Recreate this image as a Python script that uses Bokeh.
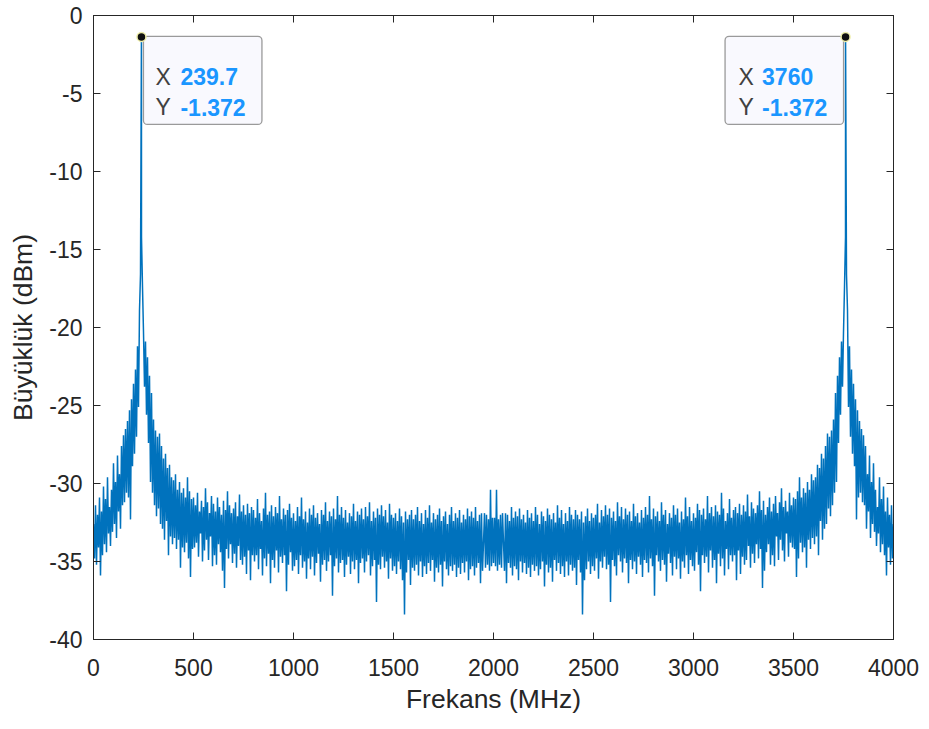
from bokeh.plotting import figure
from bokeh.models import Range1d, LinearAxis, FixedTicker, BoxAnnotation
from bokeh.core.properties import value
from bokeh.embed import file_html
from bokeh.resources import INLINE

# ---------------- data ----------------
X_TICKS = [0, 500, 1000, 1500, 2000, 2500, 3000, 3500, 4000]
Y_TICKS = [-40, -35, -30, -25, -20, -15, -10, -5, 0]
X_LABEL = "Frekans (MHz)"
Y_LABEL = "Büyüklük (dBm)"

FS = 4000.0      # sampling frequency (MHz): spectrum shown 0..FS
STEP = 5.0       # frequency spacing of the read-off values (MHz)

# magnitude (dBm) for 0..2000 MHz, every 5 MHz;
# the spectrum of the real signal is mirror-symmetric about FS/2
half_mag = [
    -32.6, -34.8, -31.4, -35.2, -32.0, -34.1, -30.9, -35.9, -31.8, -34.6,
    -30.2, -33.9, -31.0, -34.4, -29.6, -33.2, -31.5, -34.0, -30.4, -33.1,
    -28.7, -32.6, -29.9, -33.5, -28.2, -31.8, -29.4, -32.9, -27.6, -31.4,
    -26.9, -31.2, -26.5, -30.6, -26.0, -30.9, -25.3, -32.3, -24.6, -28.9,
    -23.6, -28.1, -22.7, -27.0, -21.2, -25.1, -18.9, -16.6, -14.2, -17.4,
    -20.3, -23.8, -20.9, -25.6, -21.9, -27.4, -23.1, -29.9, -24.2, -30.6,
    -25.9, -31.4, -26.6, -32.1, -27.0, -31.6, -26.8, -32.6, -27.6, -32.9,
    -28.4, -33.6, -28.1, -32.4, -29.0, -34.6, -28.8, -33.4, -29.6, -33.9,
    -29.8, -33.5, -29.4, -34.2, -30.4, -33.6, -29.9, -35.4, -30.6, -34.1,
    -30.3, -34.4, -30.9, -33.8, -29.6, -34.8, -30.5, -36.0, -31.0, -34.2,
    -30.9, -34.1, -31.4, -33.8, -30.6, -34.7, -31.8, -33.2, -31.1, -35.0,
    -31.5, -34.3, -30.3, -33.6, -31.2, -34.9, -31.9, -33.4, -30.8, -35.3,
    -31.3, -34.6, -31.8, -35.2, -30.9, -33.9, -31.5, -34.4, -32.0, -35.6,
    -31.1, -36.7, -31.7, -34.2, -30.5, -34.8, -31.4, -33.9, -31.9, -35.1,
    -31.6, -34.5, -31.2, -35.4, -32.1, -34.0, -30.7, -34.9, -31.8, -35.2,
    -31.4, -34.7, -32.0, -35.8, -31.3, -34.3, -31.9, -36.2, -31.5, -34.6,
    -31.7, -35.0, -32.2, -34.6, -31.0, -35.5, -31.9, -34.2, -32.4, -35.9,
    -31.6, -34.8, -30.6, -35.3, -32.0, -34.5, -31.8, -36.4, -31.4, -34.9,
    -32.1, -35.4, -31.5, -34.3, -31.9, -35.7, -30.8, -34.7, -32.3, -35.1,
    -31.6, -34.6, -32.0, -36.9, -31.7, -35.2, -31.3, -34.4, -32.2, -35.6,
    -31.9, -35.3, -32.4, -34.9, -31.5, -35.8, -32.1, -34.6, -30.9, -35.4,
    -32.3, -35.0, -31.8, -36.1, -32.5, -34.8, -31.6, -35.5, -32.0, -34.7,
    -31.4, -35.9, -32.2, -35.1, -31.9, -34.5, -32.6, -36.3, -31.7, -35.2,
    -32.0, -34.9, -31.2, -35.6, -32.4, -35.0, -31.8, -34.6, -32.1, -37.2,
    -31.6, -35.3, -32.3, -34.8, -30.8, -35.7, -32.0, -35.1, -31.5, -34.9,
    -32.2, -36.0, -31.7, -35.2, -32.5, -34.7, -31.9, -35.8, -32.1, -35.0,
    -31.3, -35.5, -32.4, -34.9, -31.8, -36.4, -32.0, -35.1, -31.6, -34.8,
    -32.3, -35.7, -31.5, -35.0, -32.1, -34.6, -31.2, -35.9, -32.4, -35.3,
    -31.8, -34.9, -32.2, -37.6, -31.6, -35.2, -32.0, -35.5, -31.4, -34.7,
    -32.1, -35.4, -31.7, -35.0, -32.5, -36.1, -31.3, -34.8, -32.0, -35.6,
    -32.2, -35.3, -31.9, -35.8, -32.4, -35.0, -31.6, -35.5, -32.1, -36.2,
    -32.5, -38.4, -31.8, -35.7, -32.3, -34.9, -32.0, -36.5, -31.7, -35.4,
    -32.3, -35.6, -32.0, -35.2, -31.5, -35.9, -32.4, -35.0, -31.9, -36.0,
    -32.6, -35.3, -31.7, -35.8, -32.2, -35.1, -31.4, -35.6, -32.5, -34.9,
    -31.9, -36.3, -32.3, -35.4, -32.0, -35.7, -31.6, -35.2, -32.4, -36.6,
    -32.1, -35.0, -31.8, -35.5, -32.6, -35.9, -32.0, -35.3, -31.5, -35.6,
    -32.4, -35.2, -31.9, -36.0, -32.2, -35.4, -31.7, -35.8, -32.5, -35.1,
    -32.0, -35.7, -32.3, -35.0, -31.6, -36.2, -32.1, -35.5, -31.8, -35.3,
    -32.2, -35.9, -31.5, -35.4, -32.4, -35.1, -32.0, -36.4, -31.9, -35.6,
    -33.8, -31.9, -35.4, -32.0, -35.2, -32.3, -35.6, -30.4, -35.3, -32.2,
    -35.1,
]

# the two data-tip points (peaks)
peak_freq = [239.7, 3760.3]
peak_mag = [-1.372, -1.372]

# ---------------- build full spectrum ----------------
freq = [i * STEP for i in range(len(half_mag))]
mag = list(half_mag)
for i in range(len(half_mag) - 2, -1, -1):
    freq.append(FS - i * STEP)
    mag.append(half_mag[i])
pts = sorted(zip(freq + peak_freq, mag + peak_mag))
freq = [a for a, _ in pts]
mag = [b for _, b in pts]

# ---------------- figure ----------------
FRAME_W, FRAME_H = 800, 624
X0, X1 = X_TICKS[0], X_TICKS[-1]
Y0, Y1 = Y_TICKS[0], Y_TICKS[-1]
FONT = "Liberation Sans"
AX_COL = "#262626"
LINE_COL = "#0072BD"

p = figure(frame_width=FRAME_W, frame_height=FRAME_H,
           x_range=Range1d(X0, X1), y_range=Range1d(Y0, Y1),
           output_backend="svg", toolbar_location=None,
           min_border_left=93, min_border_top=15, min_border_right=30,
           min_border_bottom=85,
           background_fill_color="white", border_fill_color="white")
p.xgrid.visible = False
p.ygrid.visible = False
p.outline_line_color = AX_COL

bottom_ax = p.below[0]
left_ax = p.left[0]
bottom_ax.ticker = FixedTicker(ticks=X_TICKS)
left_ax.ticker = FixedTicker(ticks=Y_TICKS)
left_ax.major_label_overrides = {t: str(t) for t in Y_TICKS}
bottom_ax.axis_label = X_LABEL
left_ax.axis_label = Y_LABEL

top_ax = LinearAxis(ticker=FixedTicker(ticks=X_TICKS),
                    major_label_overrides={t: "" for t in X_TICKS})
right_ax = LinearAxis(ticker=FixedTicker(ticks=Y_TICKS),
                      major_label_overrides={t: "" for t in Y_TICKS})
p.add_layout(top_ax, "above")
p.add_layout(right_ax, "right")

for ax in [bottom_ax, left_ax, top_ax, right_ax]:
    ax.axis_line_color = AX_COL
    ax.axis_line_width = 1
    ax.major_tick_line_color = AX_COL
    ax.major_tick_in = 7
    ax.major_tick_out = 0
    ax.minor_tick_line_color = None
    ax.major_label_text_font = FONT
    ax.major_label_text_font_size = "23px"
    ax.major_label_text_color = AX_COL
    ax.axis_label_text_font = FONT
    ax.axis_label_text_font_size = "26.5px"
    ax.axis_label_text_font_style = "normal"
    ax.axis_label_text_color = AX_COL
for ax in [top_ax, right_ax]:
    ax.major_label_standoff = 0
    ax.major_label_text_font_size = "1px"

bottom_ax.major_label_standoff = 19
bottom_ax.axis_label_standoff = 5
left_ax.major_label_standoff = 11
left_ax.axis_label_standoff = 8

# spectrum line
p.line(freq, mag, line_color=LINE_COL, line_width=1.5)

# data tips
ux = (X1 - X0) / FRAME_W   # data units per screen px
uy = (Y1 - Y0) / FRAME_H
BOX_DX = [2, -120.5]       # box left edge relative to the point (px)
BOX_W, BOX_H = 118.5, 87.5
TXT_DX = [14, -107]        # "X"/"Y" label offset (px)
VAL_DX = [39, -83.5]       # value offset (px)
for i in range(len(peak_freq)):
    pf, pm = peak_freq[i], peak_mag[i]
    p.add_layout(BoxAnnotation(
        left=pf + BOX_DX[i] * ux, right=pf + (BOX_DX[i] + BOX_W) * ux,
        top=pm + 0.5 * uy, bottom=pm - BOX_H * uy,
        fill_color="#f9f9fe", fill_alpha=1.0,
        line_color="#9a9a9a", line_width=1.3, line_alpha=1.0,
        border_radius=4, level="underlay"))
    for lab, val, dy in [("X", f"{pf:.4g}", 40), ("Y", f"{pm:.4g}", 70.5)]:
        p.text(x=[pf], y=[pm], text=[lab], x_offset=TXT_DX[i], y_offset=dy,
               text_font=value(FONT), text_font_size="23px",
               text_color="#404040", text_baseline="alphabetic",
               text_align="left")
        p.text(x=[pf], y=[pm], text=[val], x_offset=VAL_DX[i], y_offset=dy,
               text_font=value(FONT), text_font_size="23px",
               text_font_style="bold", text_color="#1a96ff",
               text_baseline="alphabetic", text_align="left")

p.scatter(peak_freq, peak_mag, size=9, fill_color="#111111",
          line_color="#eeeeaa", line_width=1.5)

open("out.html", "w").write(file_html(p, INLINE))
